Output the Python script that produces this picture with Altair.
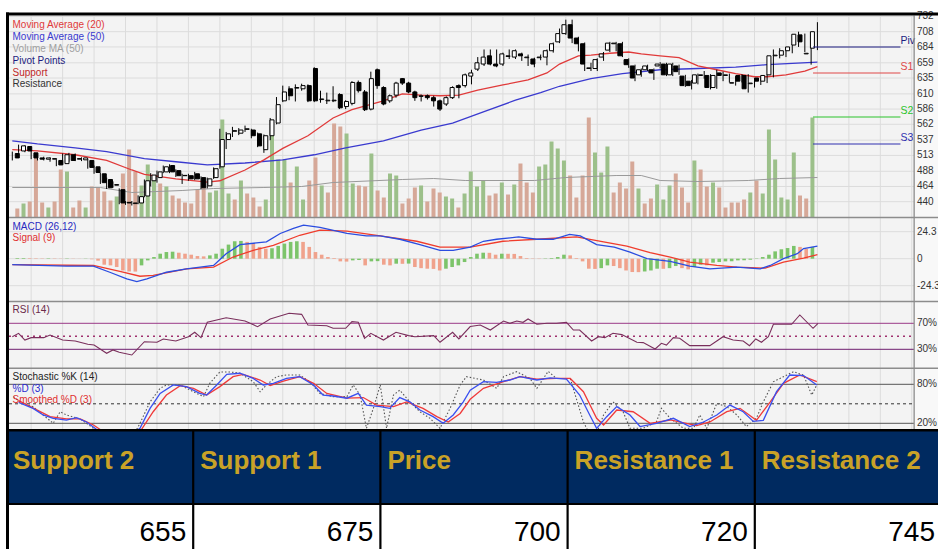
import altair as alt
import pandas as pd

# ---------------- data ----------------
OPEN = [516, 520, 527, 517, 509, 507, 507, 505, 500, 514,
        507, 506, 505, 495, 484, 475, 466, 459, 439, 437,
        438, 449, 473, 478, 487, 497, 489, 481, 481, 484,
        478, 465, 478, 495, 538, 551, 548, 554, 553, 547,
        522, 544, 564, 599, 618, 619, 618, 623, 650, 601,
        599, 599, 609, 590, 595, 628, 613, 586, 648, 620,
        599, 608, 634, 627, 613, 606, 607, 604, 599, 594,
        604, 623, 623, 638, 649, 657, 670, 657, 657, 669,
        668, 673, 667, 665, 667, 668, 678, 692, 705, 719,
        698, 689, 650, 650, 668, 679, 689, 689, 664, 654,
        640, 648, 648, 654, 657, 640, 654, 638, 630, 627,
        639, 639, 620, 643, 639, 627.5, 639, 639, 626, 635,
        630, 640, 670, 671, 678, 687, 703, 673, 682]
HIGH = [519, 530, 529, 520, 512, 511, 510, 507, 516, 517,
        516, 510, 507, 497, 486, 478, 472, 461, 441, 441,
        450, 475, 485, 489, 497, 499, 491, 484, 484, 487,
        480, 478, 494, 555, 550, 558, 556, 560, 555, 549,
        546, 572, 605, 623, 622, 625, 626, 625, 652, 615,
        612, 622, 611, 600, 630, 631, 616, 645, 650, 622,
        609, 629, 635, 629, 615, 609, 609, 607, 601, 606,
        622, 625, 642, 648, 668, 680, 680, 680, 675, 680,
        680, 675, 672, 667, 672, 680, 691, 713, 727, 727,
        700, 691, 659, 666, 676, 692, 692, 692, 666, 656,
        650, 656, 650, 660, 659, 659, 656, 640, 632, 642,
        646, 641, 648, 645, 642, 638, 641, 641, 632, 637,
        641, 680, 682, 682, 688, 708, 705, 684, 723]
LOW = [505, 517, 518, 507, 505, 505, 503, 496, 499, 503,
       504, 504, 492, 484, 468, 460, 462, 436, 435, 434,
       436, 447, 464, 470, 485, 485, 479, 468, 473, 474,
       460, 461, 476, 492, 523, 542, 545, 550, 540, 526,
       517, 537, 562, 597, 600, 598, 615, 597, 597, 596,
       594, 597, 586, 586, 592, 612, 583, 584, 618, 592,
       596, 604, 624, 611, 599, 598, 601, 590, 583, 591,
       602, 603, 620, 625, 646, 654, 655, 652, 654, 665,
       665, 662, 654, 652, 663, 655, 675, 690, 703, 690,
       677, 646, 646, 646, 662, 676, 677, 668, 651, 630,
       637, 646, 632, 650, 638, 638, 640, 621, 617, 625,
       634, 617, 618, 630, 628, 623, 628, 612, 620, 624,
       627, 636, 666, 668, 674, 684, 676, 656, 679]
CLOSE = [509, 528, 520, 509, 507, 509, 508, 498, 514, 505,
         508, 509, 494, 486, 470, 462, 467, 438, 438, 438,
         448, 473, 482, 487, 495, 487, 481, 481.5, 476, 476,
         462, 476, 492, 538, 547, 552, 553, 555, 544, 528,
         544, 569, 593, 613, 607, 620, 623, 599, 599, 602,
         600, 600, 588, 598, 628, 615, 585, 634, 623, 594,
         607, 627, 627, 613, 604, 607, 604, 599, 586, 604,
         620, 620, 640, 643, 659, 668, 657, 654, 673, 670,
         678, 670, 668, 657, 668, 678, 689, 705, 719, 698,
         689, 657, 651, 664, 673, 690, 690, 670, 656, 635,
         648, 654, 643, 657, 640, 657, 645, 623, 623, 640,
         640, 620, 639, 639, 640, 627, 630, 618, 627, 630,
         639, 670, 671, 678, 684, 704, 692, 674, 708]
VOLUME = [90, 140, 160, 650, 150, 100, 160, 480, 460, 100,
          170, 100, 310, 300, 260, 170, 210, 440, 680, 460,
          320, 530, 400, 340, 310, 220, 190, 150, 140, 280,
          370, 250, 270, 980, 240, 180, 370, 240, 200, 110,
          180, 820, 580, 580, 350, 510, 180, 370, 600, 320,
          250, 940, 910, 840, 340, 320, 310, 640, 270, 200,
          440, 420, 140, 190, 300, 320, 160, 290, 250, 210,
          190, 100, 240, 460, 310, 370, 220, 240, 350, 230,
          330, 540, 350, 250, 510, 530, 760, 690, 570, 420,
          200, 420, 1000, 650, 450, 710, 250, 350, 290, 560,
          290, 140, 190, 330, 180, 320, 440, 300, 150, 570,
          480, 310, 350, 300, 100, 150, 150, 180, 250, 370,
          240, 880, 580, 200, 180, 650, 220, 190, 1000]
VOL_UP = [0, 1, 0, 0, 0, 1, 0, 0, 1, 0,
          0, 1, 0, 0, 0, 0, 1, 0, 0, 0,
          1, 1, 1, 0, 1, 0, 0, 0, 0, 0,
          0, 1, 1, 1, 1, 0, 1, 0, 0, 0,
          1, 1, 1, 1, 0, 1, 1, 0, 0, 1,
          0, 0, 0, 1, 1, 0, 0, 1, 0, 0,
          1, 1, 0, 0, 0, 1, 0, 0, 0, 1,
          1, 0, 1, 1, 1, 1, 0, 0, 1, 0,
          1, 0, 0, 0, 1, 1, 1, 1, 1, 0,
          0, 0, 0, 1, 1, 1, 0, 0, 0, 0,
          1, 0, 0, 1, 1, 1, 0, 0, 0, 1,
          0, 0, 1, 0, 0, 0, 0, 0, 1, 0,
          1, 1, 1, 1, 1, 1, 0, 0, 1]
HIST = [0.6, 0.6, 0.5, 0.4, 0.3, 0.4, 0.3, 0.2, 0.3, 0.2,
        0.1, 0.2, -0.5, -1.8, -5.4, -6.0, -7.5, -10.6, -11.5, -11.6,
        -6.0, -1.5, 1.5, 4.5, 6.0, 6.3, 5.4, 4.5, 3.6, 2.4,
        2.1, 3.0, 4.5, 9.0, 12.7, 15.7, 16.0, 15.1, 13.6, 10.6,
        9.0, 9.4, 11.5, 13.6, 15.1, 15.7, 15.1, 10.6, 6.0, 3.6,
        1.5, 0.6, -2.4, -2.6, -1.5, -1.2, -6.0, -2.4, -2.2, -5.4,
        -6.0, -4.5, -4.6, -4.4, -7.5, -8.5, -9.0, -9.2, -10.6, -9.0,
        -7.5, -6.0, -3.0, 1.5, 4.5, 5.4, 5.3, 3.6, 4.5, 4.4,
        4.3, 2.4, 0.6, 0.3, -0.3, 0.3, 0.6, 1.5, 3.6, 3.0,
        0.6, -2.4, -9.0, -9.2, -8.5, -6.0, -6.6, -8.5, -10.6, -12.0,
        -12.1, -11.5, -10.6, -9.0, -9.1, -8.5, -6.6, -8.5, -9.6, -7.5,
        -5.4, -6.0, -3.6, -3.0, -2.4, -2.3, -1.5, -1.4, -0.9, 0.3,
        1.5, 3.6, 6.6, 8.5, 9.6, 11.5, 10.6, 9.0, 10.6]

MA20_IDX = [0, 4, 10, 15, 19, 21, 26, 31, 33, 37, 40, 43, 47, 51, 54, 59, 62, 65, 68, 71,
            74, 78, 82, 85, 87, 90, 92, 95, 98, 100, 103, 106, 109, 112, 115, 118, 120, 123, 126, 128]
MA20_VAL = [522, 520, 514, 505, 490, 483, 476, 471, 473, 490, 506, 524, 544, 572, 585, 599, 610, 608, 607, 608,
            616, 624, 632, 643, 657, 670, 671, 674, 676, 673, 670, 667, 654, 648, 642, 637, 637, 640, 646, 653]
MA50_IDX = [0, 4, 10, 15, 21, 26, 31, 37, 43, 48, 53, 59, 65, 70, 75, 80, 84, 87, 92, 97, 103, 109, 115, 120, 128]
MA50_VAL = [536, 531, 525, 519, 508, 503, 498, 501, 506, 514, 525, 536, 553, 564, 582, 600, 612, 622, 634, 642,
            648, 650, 652, 656, 660]
VOLMA_IDX = [0, 14, 19, 27, 32, 40, 46, 51, 62, 67, 72, 83, 88, 96, 100, 103, 109, 117, 122, 128]
VOLMA_VAL = [300, 300, 250, 270, 290, 300, 310, 350, 380, 390, 370, 370, 400, 420, 420, 370, 360, 370, 390, 400]

MACD_IDX = [0, 8.6, 12.9, 15.5, 18.2, 19.8, 21.4, 24.5, 27.7, 32, 34, 36.2, 40.4, 42.6, 44.7, 46.3, 48.9,
            53.2, 56.3, 58.5, 61.6, 64.8, 68, 70.1, 72.8, 74.9, 77, 80.5, 83.4, 86, 88.6, 90.3, 92.9,
            95.7, 98.2, 100.9, 104.6, 107.7, 110.9, 115.2, 118.9, 120.5, 122.6, 124.8, 125.8, 128]
MACD_VAL = [-5.4, -6.7, -6.7, -12.2, -18.1, -20.6, -18.1, -12.2, -9.1, -6.1, 4.5, 12.7, 15.1, 22.7, 27.2, 30.2,
            28.1, 22.7, 20.5, 20.5, 17.5, 12.7, 7.5, 7.5, 10.5, 15.7, 17.5, 19.6, 17.5, 17.5, 21.8, 20.5,
            12.7, 10.5, 6.0, 0.0, -2.4, -6.7, -9.1, -7.6, -9.1, -6.1, 0.0, 4.5, 9.1, 11.4]
SIGNAL_IDX = [0, 12.9, 17.1, 20.3, 22.4, 27.7, 32, 35.1, 38.3, 41.5, 45.7, 48.9, 53.2, 58.5, 64.3, 68,
              72.8, 78, 83.4, 89.7, 94, 97.7, 101.4, 104.6, 107.7, 112, 115.2, 119.7, 122.6, 125.8, 128]
SIGNAL_VAL = [-5.4, -6.1, -11.5, -15.8, -15.1, -9.1, -7.6, 1.5, 7.5, 12.1, 21.1, 25.7, 24.8, 20.5, 15.7, 10.5,
              10.5, 15.7, 17.5, 19.6, 15.1, 11.4, 5.4, 1.5, -3.1, -6.1, -7.6, -8.5, -3.1, 0.5, 3.6]

RSI_IDX = [0, 1, 2, 3, 5, 6, 8, 10, 12, 13, 15, 16, 17, 19, 21, 23, 24, 26, 28, 29, 30, 31, 34, 37, 39,
           41, 44, 46, 47, 50, 51, 53, 54, 55, 56, 57, 59, 61, 63, 64, 67, 68, 70, 71, 72.8, 74.4, 76,
           78.1, 79.1, 80.2, 81.2, 82, 83.4, 85, 86.5, 88.1, 89.2, 90.2, 92.1, 93.2, 94.2, 95.5, 96.9,
           99.3, 100.3, 102.2, 103.2, 104, 105.1, 106.1, 107.7, 109.3, 110.9, 113, 114.6, 116.2, 117.2,
           118.2, 119.1, 120.2, 121, 123.9, 125.2, 127.3, 128.1]
RSI_VAL = [49.4, 54.6, 44.3, 47.9, 47.9, 52, 44.3, 42.8, 37.7, 36.6, 23.9, 29, 25.4, 21.2, 41.7, 40.8, 45.9,
           42.8, 49.4, 56.2, 47.9, 71.5, 78.6, 73.5, 64.8, 76.6, 85.4, 83.8, 67.4, 66.3, 62.3, 62.3, 72.5,
           71.5, 46.9, 54.6, 44.3, 56.2, 51, 49.4, 51, 40.8, 56.2, 45.9, 65, 67.4, 59.7, 73.5, 70, 73.5,
           71.5, 76.6, 68.5, 70, 70, 71.5, 59.7, 59.7, 42.8, 49.4, 47.9, 54.6, 52.6, 40.8, 40.3, 30.5, 39.2,
           36.6, 47.9, 46.9, 35.6, 35.6, 35.6, 49.4, 44.3, 42.8, 35.6, 45.9, 40.8, 49.4, 68.5, 68.5, 82.8,
           62.3, 70]

K_IDX = [0.2, 1.2, 3.3, 4.9, 6.5, 7.6, 8.6, 10.8, 12.9, 15, 17.1, 19.2, 20.3, 21.9, 23.5, 24.5, 26.7, 27.7,
         29.3, 30.4, 31.4, 33, 34.6, 36.2, 38.3, 39.4, 40.4, 42, 43.6, 45.7, 47.3, 48.9, 51, 53.2, 54.2,
         55.3, 56.3, 57.4, 58.5, 59.5, 60.6, 61.6, 63.2, 64.8, 66.4, 68, 69.6, 71.2, 72.2, 74.9, 77, 78.1,
         80.2, 82.3, 83.4, 85.2, 86.5, 88.7, 90.8, 92.4, 94, 95.5, 97.1, 98.2, 100.3, 102.4, 103.2, 104.6,
         106.7, 108.3, 109.3, 110.4, 112, 113.6, 115.2, 116.7, 118.3, 119.4, 121, 122.6, 124.2, 125.8,
         127.1, 127.9]
K_VAL = [61, 53, 45.6, 32.8, 20, 37.8, 32.8, 26.7, 12.3, -8, -10, 0, 20, 53, 73.8, 79, 79, 74,
         66, 61, 81.5, 99, 99, 97, 84, 68.6, 79, 91.7, 94.3, 94.3, 84, 66, 61, 61, 79,
         63.5, 12.3, 43, 79, 12.3, 63.5, 71, 53, 37.8, 27.7, 12.3, 43, 79, 91.7, 86.6, 73.8, 91.7,
         99.4, 89, 73.8, 100, 89, 89, 22, -8, 32.8, 53, 37.8, 12.3, 12.3, 22, 43, 27.7,
         12.3, 12.3, 32.8, 12.3, 50.6, 45.6, 32.8, 15, 27.7, 53, 84, 91.7, 99.4, 94,
         63.5, 79]
D_IDX = [1, 3.3, 4.9, 6.5, 8.6, 10.2, 11.8, 13.9, 17.1, 20.3, 21.9, 23.5, 25.6, 27.7, 29.8, 30.9, 32.5,
         34.1, 36.2, 38.3, 39.9, 41.5, 43.6, 45.7, 47.9, 49.4, 51, 53.2, 55, 56.3, 58.5, 60, 61.6, 63.2,
         64.8, 66.9, 68.5, 70.1, 71.7, 72.8, 74.9, 77, 79.1, 80.7, 83.4, 85.5, 88.1, 90.2, 91.8, 92.9,
         94.5, 96.1, 98.2, 99.8, 102.4, 105.1, 107.7, 109.9, 112, 114.1, 116.2, 117.8, 119.4, 121.5,
         123.6, 125.8, 127.9]
D_VAL = [52, 43, 32.8, 27.7, 25, 28.7, 22, 7, -10, 12.3, 43, 66, 79, 76.4, 66, 63.5, 79,
         95.3, 97, 89, 79, 81.5, 89, 91.7, 79, 63.5, 62, 58.6, 66, 48, 45.6, 43, 59.6, 53,
         40.4, 30.2, 20, 32.8, 53, 71, 84, 83, 86.6, 91.7, 86.6, 90, 88, 63.5, 32.8, 12.3,
         30.2, 45.6, 32.8, 15, 20, 27.7, 15, 22, 32.8, 48, 37.8, 23, 24.6, 68.6,
         94.3, 93.5, 79]
SD_IDX = [1, 6, 8.6, 10.8, 12.9, 14.5, 17.6, 20.3, 22.4, 24.5, 26.7, 28.8, 30.9, 33, 35.1, 36.7, 39.4,
          41, 43.1, 45.7, 47.9, 50, 53.2, 55.8, 57.9, 60.6, 62.7, 65.3, 67.5, 69.3, 71.2, 72.8, 74.9,
          78.1, 80.7, 83.4, 86.5, 88.7, 90.8, 92.9, 94, 96.1, 98.7, 101.4, 104.6, 108.8, 110.9, 113.6,
          115.7, 118.3, 120.5, 122.6, 125.2, 127.9]
SD_VAL = [55, 30.2, 26.7, 26.7, 17.4, 7, -10, 7, 37.8, 63.5, 78, 73.8, 63.5, 76.4, 91.7, 95.3, 86.6,
          78, 85, 91.7, 81.5, 66, 58.6, 59.6, 48, 45.6, 53, 43, 30.2, 22, 35.2, 57, 73.8,
          84, 91.7, 88, 89, 89, 68.6, 27.7, 17.4, 40.4, 37.8, 20, 25.1, 16.4, 22, 37.8,
          43, 24.6, 53, 81.5, 94.3, 84]

PRICE_TICKS = [440, 464, 488, 513, 537, 562, 586, 610, 635, 659, 684, 708, 732]
MACD_TICKS = [24.3, 0, -24.3]
MACD_TICK_LABELS = ["24.3", "0", "-24.3"]
RSI_TICKS = [70, 30]
STOCH_TICKS = [80, 20]
PIVOT_NAMES = ["Piv", "S1", "S2", "S3"]
PIVOT_VALUES = [683.9, 642.9, 573.5, 531.0]
LEGEND_TEXT = ["Moving Average (20)", "Moving Average (50)", "Volume MA (50)",
               "Pivot Points", "Support", "Resistance"]
TABLE_HEADERS = ["Support 2", "Support 1", "Price", "Resistance 1", "Resistance 2"]
TABLE_VALUES = [655, 675, 700, 720, 745]

# ---------------- layout & style ----------------
W, H = 938, 549
PL, PR = 9, 914
P_TOP, P_BOT = 15.5, 217.5
M_BOT, R_BOT, S_BOT = 301.5, 368.3, 430
X0, STEP = 12.3, 6.29
FONT = "Liberation Sans"
BG = "#f3f3f3"
GRID = "#dcdcdc"
SEP = "#8c8c8c"
LEGEND_COLORS = ["#e03a3a", "#3a3acf", "#a0a0a0", "#1c1c80", "#c02828", "#333333"]
PIVOT_COLORS = ["#1c1c80", "#e04848", "#2cc42c", "#3030b0"]

n = len(CLOSE)


def sc(dom, rng):
    return alt.Scale(domain=dom, range=rng, nice=False, zero=False)


XS = sc([0, n - 1], [X0, X0 + STEP * (n - 1)])
PRICE = sc([440, 708], [201.7, 31.7])
VOL = sc([0, 1000], [P_BOT, P_BOT - 100])
MACD = sc([-24.3, 24.3], [285.7, 231.7])
RSI = sc([30, 70], [349.3, 323.3])
STO = sc([20, 80], [423.3, 384.3])
TBL = sc([0, len(TABLE_HEADERS)], [6, 942])


def X(f="i"):
    return alt.X(f, type="quantitative", scale=XS, axis=None)


def Y(f, s):
    return alt.Y(f, type="quantitative", scale=s, axis=None)


def TX(f):
    return alt.X(f, type="quantitative", scale=TBL, axis=None)


ONE = pd.DataFrame({"d": [0]})


def rect(x0, x1, y0, y1, color):
    return alt.Chart(ONE).mark_rect(color=color).encode(
        x=alt.value(x0), x2=alt.value(x1), y=alt.value(y0), y2=alt.value(y1))


def label(text, x, y, color, size=10, align="left"):
    return alt.Chart(ONE).mark_text(text=text, align=align, baseline="middle", font=FONT,
                                    fontSize=size, color=color).encode(x=alt.value(x), y=alt.value(y))


def series(idx, vals, scale, color, width=1.3, dash=None):
    kw = dict(color=color, strokeWidth=width)
    if dash:
        kw["strokeDash"] = dash
    return alt.Chart(pd.DataFrame({"i": idx, "v": vals})).mark_line(**kw).encode(
        x=X("i"), y=Y("v", scale))


def levels(vals, scale, color, width=1, dash=None):
    kw = dict(color=color, strokeWidth=width)
    if dash:
        kw["strokeDash"] = dash
    return alt.Chart(pd.DataFrame({"v": vals})).mark_rule(**kw).encode(
        x=alt.value(PL), x2=alt.value(PR), y=Y("v", scale))


def ticks(vals, texts, scale):
    return alt.Chart(pd.DataFrame({"v": vals, "t": texts})).mark_text(
        align="left", baseline="middle", font=FONT, fontSize=10, color="#333333").encode(
        x=alt.value(917), y=Y("v", scale), text="t:N")


df = pd.DataFrame({"i": list(range(n)), "o": OPEN, "h": HIGH, "l": LOW, "c": CLOSE,
                   "v": VOLUME, "up": VOL_UP, "hist": HIST})

layers = []
# backgrounds
layers.append(rect(PL, PR, P_TOP, S_BOT, BG))
layers.append(rect(PR, W, P_TOP, S_BOT, "#f8f8f8"))
# vertical grid (weekly)
layers.append(alt.Chart(pd.DataFrame({"i": list(range(3, 144, 5))})).mark_rule(
    color=GRID, strokeWidth=1).encode(x=X("i"), y=alt.value(P_TOP), y2=alt.value(S_BOT)))
# horizontal grid
layers.append(levels(PRICE_TICKS, PRICE, GRID))
layers.append(levels(MACD_TICKS, MACD, GRID))

# volume
layers.append(alt.Chart(df).mark_bar(size=4).encode(
    x=X("i"), y=Y("v", VOL), y2=alt.datum(0),
    color=alt.condition("datum.up == 1", alt.value("#9cc08a"), alt.value("#d6a898"))))
layers.append(series(VOLMA_IDX, VOLMA_VAL, VOL, "#9a9a9a", width=1))
# moving averages
layers.append(series(MA50_IDX, MA50_VAL, PRICE, "#3a3acf"))
layers.append(series(MA20_IDX, MA20_VAL, PRICE, "#e03a3a"))
# candles
layers.append(alt.Chart(df).mark_rule(color="black", strokeWidth=1).encode(
    x=X("i"), y=Y("l", PRICE), y2=alt.Y2("h")))
layers.append(alt.Chart(df).mark_bar(size=4, stroke="black", strokeWidth=1).encode(
    x=X("i"), y=Y("o", PRICE), y2=alt.Y2("c"),
    fill=alt.condition("datum.c < datum.o", alt.value("black"), alt.value("white"))))
# pivot points
piv = pd.DataFrame({"name": PIVOT_NAMES, "v": PIVOT_VALUES})
piv["x0"] = n - 1 - 0.7
piv["x1"] = n - 1 + 13.2
pcol = alt.Color("name:N", scale=alt.Scale(domain=PIVOT_NAMES, range=PIVOT_COLORS), legend=None)
layers.append(alt.Chart(piv).mark_rule(strokeWidth=1.2).encode(
    x=X("x0"), x2=alt.X2("x1"), y=Y("v", PRICE), color=pcol))
layers.append(alt.Chart(piv).mark_text(align="left", baseline="middle", dy=-6, font=FONT,
                                       fontSize=10.5).encode(
    x=X("x1"), y=Y("v", PRICE), text="name:N", color=pcol))
# legend labels
for k, (t, c) in enumerate(zip(LEGEND_TEXT, LEGEND_COLORS)):
    layers.append(label(t, 12.5, 25.3 + k * 11.8, c))

# MACD panel
layers.append(alt.Chart(df).transform_window(prev="lag(hist)", sort=[alt.SortField("i")]).mark_bar(
    size=3.6).encode(
    x=X("i"), y=Y("hist", MACD), y2=alt.datum(0),
    color=alt.condition("datum.prev == null || datum.hist >= datum.prev",
                        alt.value("#7cc46a"), alt.value("#f0a28c"))))
layers.append(series(SIGNAL_IDX, SIGNAL_VAL, MACD, "#f03c2c"))
layers.append(series(MACD_IDX, MACD_VAL, MACD, "#2b4de0"))
layers.append(label("MACD (26,12)", 12.5, 226.7, "#2a2ac0"))
layers.append(label("Signal (9)", 12.5, 238.3, "#e03030"))

# RSI panel
layers.append(levels([70], RSI, "#9a3a88"))
layers.append(levels([30], RSI, "#6e1e6e"))
layers.append(levels([50], RSI, "#a0306e", width=1.6, dash=[2, 4]))
layers.append(series(RSI_IDX, RSI_VAL, RSI, "#7a2f5c", width=1.1))
layers.append(label("RSI (14)", 12.5, 310, "#6b2a4a"))

# Stochastic panel
layers.append(levels(STOCH_TICKS, STO, "#555555"))
layers.append(levels([50], STO, "#333333", dash=[3, 3]))
layers.append(series(K_IDX, K_VAL, STO, "#555555", width=1.1, dash=[1.5, 2]))
layers.append(series(SD_IDX, SD_VAL, STO, "#f03a3a"))
layers.append(series(D_IDX, D_VAL, STO, "#3a4ff0"))
layers.append(label("Stochastic %K (14)", 12.5, 377.3, "#222222"))
layers.append(label("%D (3)", 12.5, 388.5, "#2a2ad0"))
layers.append(label("Smoothed %D (3)", 12.5, 400, "#e03030"))

# panel separators and right edge
for yy in (P_BOT, M_BOT, R_BOT):
    layers.append(rect(PL, W, yy - 0.7, yy + 0.7, SEP))
layers.append(rect(PR - 0.5, PR + 0.8, P_TOP, S_BOT, SEP))

# right-hand tick labels
layers.append(ticks(PRICE_TICKS, [str(v) for v in PRICE_TICKS], PRICE))
layers.append(ticks(MACD_TICKS, MACD_TICK_LABELS, MACD))
layers.append(ticks(RSI_TICKS, [f"{v}%" for v in RSI_TICKS], RSI))
layers.append(ticks(STOCH_TICKS, [f"{v}%" for v in STOCH_TICKS], STO))

# table
tdf = pd.DataFrame({"col": TABLE_HEADERS, "val": TABLE_VALUES})
tdf["k"] = list(range(len(TABLE_HEADERS)))
tdf["k1"] = tdf["k"] + 1
layers.append(rect(6, W, 429, H, "black"))
layers.append(alt.Chart(tdf).mark_rect(color="#002a60").encode(
    x=TX("k"), x2=alt.X2("k1"), y=alt.value(431.5), y2=alt.value(503)))
layers.append(alt.Chart(tdf).mark_rect(color="white").encode(
    x=TX("k"), x2=alt.X2("k1"), y=alt.value(505), y2=alt.value(H + 2)))
layers.append(alt.Chart(tdf[tdf["k"] > 0]).mark_rule(color="black", strokeWidth=2.2).encode(
    x=TX("k"), y=alt.value(429), y2=alt.value(H + 2)))
layers.append(alt.Chart(tdf).mark_text(align="left", baseline="alphabetic", font=FONT, fontSize=26,
                                       fontWeight="bold", color="#c9a227", dx=7).encode(
    x=TX("k"), y=alt.value(469), text="col:N"))
layers.append(alt.Chart(tdf).mark_text(align="right", baseline="alphabetic", font=FONT, fontSize=28,
                                       color="black", dx=-7).encode(
    x=TX("k1"), y=alt.value(541), text="val:Q"))

# outer borders
layers.append(rect(6, W, 12.5, 15.5, "black"))
layers.append(rect(6, 9, 12.5, H, "black"))

chart = alt.layer(*layers).resolve_scale(
    x="independent", y="independent", color="independent", fill="independent"
).properties(
    width=W, height=H, padding=0, background="white",
    autosize=alt.AutoSizeParams(type="none"),
).configure_view(stroke=None)

chart.save("out.html", embed_options={"renderer": "svg", "actions": False})
